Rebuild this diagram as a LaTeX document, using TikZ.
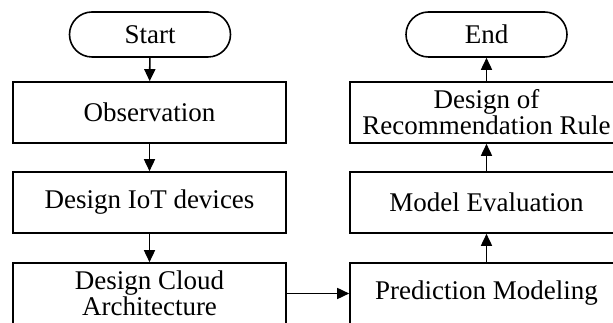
\documentclass[tikz,border=0pt]{standalone}
\usepackage{fontspec}
\setmainfont{Liberation Serif}
\usetikzlibrary{arrows.meta,shapes.misc}

\tikzset{
  box/.style={draw, line width=1.6pt, minimum width=273pt, minimum height=61pt,
    inner sep=0pt, align=center, font=\fontsize{27}{26}\selectfont},
  term/.style={box, rounded rectangle, minimum width=161pt, minimum height=45pt},
  flow/.style={-{Triangle[length=12pt,width=11pt]}, line width=1.6pt}
}

\begin{document}
\begin{tikzpicture}[x=1pt,y=1pt]
	\useasboundingbox (0,0) rectangle (613,323);
	% left column
	\node[term] (start) at (150,288.5) {Start};
	\node[box] (obs) at (149.5,210.5) {Observation};
	\node[box] (iot) at (149.5,120.5) {Design IoT devices};
	\node[box] (cloud) at (149.5,29.5) {Design Cloud\\Architecture};
	% right column
	\node[box] (pred) at (486.5,29.5) {Prediction Modeling};
	\node[box] (eval) at (486.5,120.5) {Model Evaluation};
	\node[box] (rule) at (486.5,210.5) {Design of\\Recommendation Rule};
	\node[term] (finish) at (486.5,288.5) {End};
	% arrows
	\draw[flow] (start)--(obs);
	\draw[flow] (obs)--(iot);
	\draw[flow] (iot)--(cloud);
	\draw[flow] (cloud)--(pred);
	\draw[flow] (pred)--(eval);
	\draw[flow] (eval)--(rule);
	\draw[flow] (rule)--(finish);
\end{tikzpicture}
\end{document}
